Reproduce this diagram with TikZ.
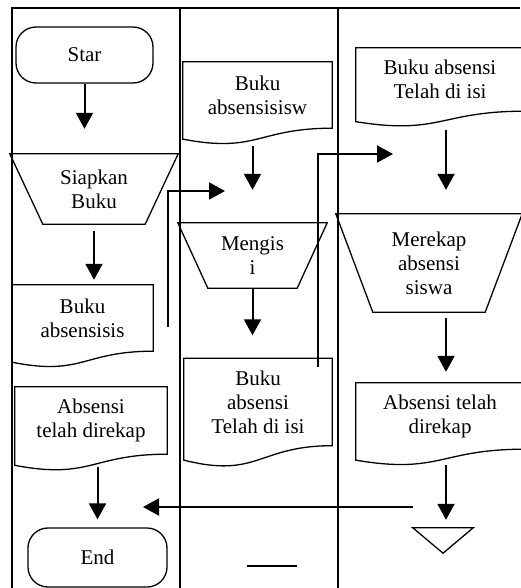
\documentclass[tikz,border=0pt]{standalone}
\usepackage{fontspec}
\setmainfont{Liberation Serif}
\usetikzlibrary{arrows.meta,calc}

\tikzstyle{lane} = [line width=2pt]
\tikzstyle{terminal} = [rectangle, draw, line width=1.3pt, rounded corners=20pt,
    text centered, font=\fontsize{21}{24}\selectfont]
\tikzstyle{manualnode} = [rectangle, align=center, inner sep=0pt,
    font=\fontsize{21}{24}\selectfont]
\tikzstyle{docnode} = [rectangle, align=center, inner sep=0pt,
    font=\fontsize{21}{24}\selectfont]
\tikzstyle{shapeline} = [line width=1.3pt]
\tikzstyle{flow} = [line width=2pt, ->]

% document: wavy edge hanging below the text area
\newcommand{\docoutline}[1]{%
  \draw[shapeline] (#1.north west) -- (#1.north east) -- (#1.south east)
    .. controls (#1.south) and ($(#1.south)!-0.38!(#1.north)$) ..
    ($(#1.south west)!-0.165!(#1.north west)$) -- cycle;}
% manual operation: wide top, narrow bottom
\newcommand{\manualoutline}[2]{%
  \draw[shapeline] (#1.north west) -- (#1.north east) -- ([xshift=-#2]#1.south east)
    -- ([xshift=#2]#1.south west) -- cycle;}

\begin{document}
\begin{tikzpicture}[x=1pt, y=-1pt, >={Triangle[width=17pt,length=16pt]}]
    \useasboundingbox (0,0) rectangle (520,588);

    % swimlanes
    \draw[lane] (11,8) -- (520,8);
    \foreach \x in {12,180,338}
        \draw[lane] (\x,8) -- (\x,588);

    % first lane
    \node[terminal, minimum width=137pt, minimum height=56pt] (star) at (84.5,55) {Star};
    \node[manualnode, minimum width=168pt, minimum height=70pt] (siapkan) at (94,189) {Siapkan\\Buku};
    \node[docnode, minimum width=141pt, minimum height=66pt] (bukuA) at (82.5,318) {Buku\\absensisis};
    \node[docnode, minimum width=152pt, minimum height=67pt] (rekapA) at (91,420.5) {Absensi\\telah direkap};
    \node[terminal, minimum width=139pt, minimum height=59pt] (finish) at (97.5,557.5) {End};

    % second lane
    \node[docnode, minimum width=149pt, minimum height=66pt] (bukuB) at (257.5,95) {Buku\\absensisisw};
    \node[manualnode, minimum width=149pt, minimum height=65pt] (mengis) at (252.5,255.5) {Mengis\\i};
    \node[docnode, minimum width=148pt, minimum height=87pt] (isiB) at (258,402) {Buku\\absensi\\Telah di isi};

    % third lane
    \node[docnode, minimum width=168pt, minimum height=63pt] (isiC) at (440,79.5) {Buku absensi\\Telah di isi};
    \node[manualnode, minimum width=186pt, minimum height=98pt] (merekap) at (429,263) {Merekap\\absensi\\siswa};
    \node[docnode, minimum width=168pt, minimum height=66pt] (rekapC) at (440,416) {Absensi telah\\direkap};
    \node[rectangle, minimum width=60pt, minimum height=25pt, inner sep=0pt] (merge) at (443,540.5) {};

    \docoutline{bukuA}
    \docoutline{rekapA}
    \docoutline{bukuB}
    \docoutline{isiB}
    \docoutline{isiC}
    \docoutline{rekapC}
    \manualoutline{siapkan}{33pt}
    \manualoutline{mengis}{30pt}
    \manualoutline{merekap}{37pt}
    \draw[shapeline] (merge.north west) -- (merge.north east) -- (merge.south) -- cycle;
    \draw[shapeline] (247,566) -- (297,566);

    \coordinate (outA) at (168,327);
    \coordinate (inB) at (225,191);
    \coordinate (outB) at (318,367);
    \coordinate (inC) at (393,154);
    \coordinate (backto) at (143,507);

    \draw[flow, shorten >=25pt] (star.south) -- (star.south |- siapkan.north);
    \draw[flow, shorten <=7pt, shorten >=5pt] (siapkan.south) -- (siapkan.south |- bukuA.north);
    \draw[flow, shorten <=13pt, shorten >=8pt] (finish.north |- rekapA.south) -- (finish.north);

    \draw[flow, shorten <=18pt, shorten >=33pt] (mengis.north |- bukuB.south) -- (mengis.north);
    \draw[flow, shorten >=23pt] (mengis.south) -- (mengis.south |- isiB.north);

    \draw[flow, shorten <=19pt, shorten >=24pt] ([xshift=6pt]isiC.south) -- ([xshift=6pt]isiC.south |- merekap.north);
    \draw[flow, shorten <=6pt, shorten >=11pt] ([xshift=6pt]rekapC.north |- merekap.south) -- ([xshift=6pt]rekapC.north);
    \draw[flow, shorten <=16pt, shorten >=8pt] ([xshift=6pt]rekapC.south) -- ([xshift=6pt]rekapC.south |- merge.north);

    \draw[flow] (outA) |- (inB);
    \draw[flow] (outB) |- (inC);
    \draw[flow] (merge.north west |- backto) -- (backto);
\end{tikzpicture}
\end{document}
